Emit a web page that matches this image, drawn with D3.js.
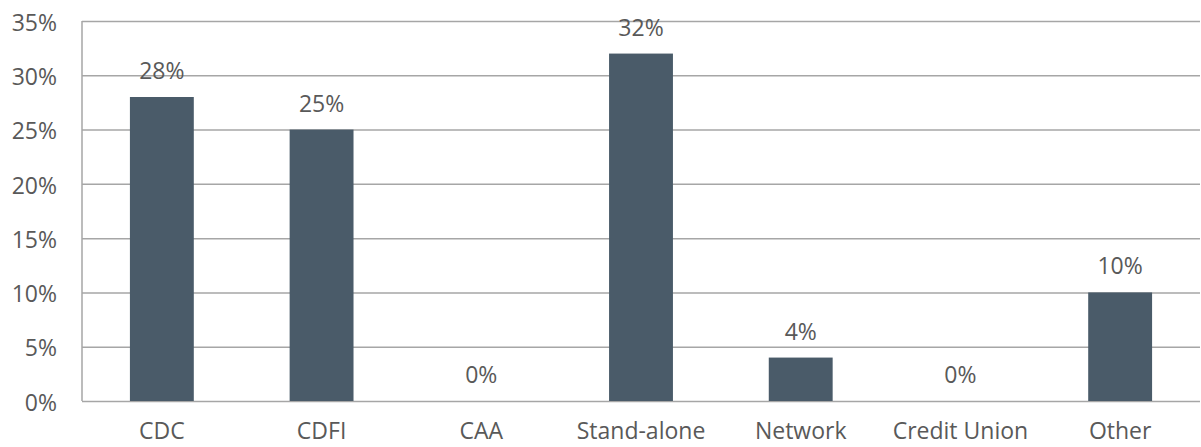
<!DOCTYPE html>
<html lang="en">
<head>
    <meta charset="UTF-8">
    <title>Organization Type Bar Chart</title>
    <script src="https://d3js.org/d3.v7.min.js"></script>
    <style>
        body { margin: 0; background: #fff; }
        .grid line { stroke: #a6a6a6; stroke-width: 1.5; }
        .grid path { stroke-width: 0; }
        .axis text { fill: #595959; font-size: 23px; font-family: "Open Sans", sans-serif; }
        .axis path, .axis line { stroke: none; }
        .bar { fill: #4a5b69; }
        .value-label { fill: #595959; font-size: 23px; font-family: "Open Sans", sans-serif; }
    </style>
</head>
<body>
    <div id="chart"></div>

    <script>
        // Data
        const categories = ["CDC", "CDFI", "CAA", "Stand-alone", "Network", "Credit Union", "Other"];
        const values = [28, 25, 0, 32, 4, 0, 10];
        const yTicks = [0, 5, 10, 15, 20, 25, 30, 35];

        const totalWidth = 1201, totalHeight = 447;
        const margin = {top: 21, right: 1, bottom: 46, left: 82};
        const width = totalWidth - margin.left - margin.right;
        const height = totalHeight - margin.top - margin.bottom;

        const svg = d3.select("#chart")
            .append("svg")
            .attr("width", totalWidth)
            .attr("height", totalHeight)
            .append("g")
            .attr("transform", `translate(${margin.left},${margin.top})`);

        const x = d3.scaleBand()
            .domain(categories)
            .range([0, width])
            .paddingInner(0.6)
            .paddingOuter(0.3);

        const y = d3.scaleLinear()
            .domain([0, 35])
            .range([height, 0]);

        // horizontal gridlines
        svg.append("g")
            .attr("class", "grid")
            .call(d3.axisLeft(y).tickValues(yTicks).tickSize(-width).tickFormat(""));

        // left axis line
        svg.append("line")
            .attr("x1", 0).attr("x2", 0)
            .attr("y1", y(35)).attr("y2", y(0))
            .attr("stroke", "#a6a6a6")
            .attr("stroke-width", 1.5);

        // y axis labels
        svg.append("g")
            .attr("class", "axis")
            .call(d3.axisLeft(y).tickValues(yTicks).tickSize(0).tickPadding(25).tickFormat(d => d + "%"))
            .selectAll("text")
            .attr("dy", "0.4em");

        // x axis labels
        svg.append("g")
            .attr("class", "axis")
            .attr("transform", `translate(0,${height})`)
            .call(d3.axisBottom(x).tickSize(0).tickPadding(22));

        const data = categories.map((c, i) => ({cat: c, val: values[i]}));

        svg.selectAll(".bar")
            .data(data)
            .enter()
            .append("rect")
            .attr("class", "bar")
            .attr("x", d => x(d.cat))
            .attr("width", x.bandwidth())
            .attr("y", d => y(d.val))
            .attr("height", d => height - y(d.val));

        svg.selectAll(".value-label")
            .data(data)
            .enter()
            .append("text")
            .attr("class", "value-label")
            .attr("x", d => x(d.cat) + x.bandwidth() / 2)
            .attr("y", d => y(d.val) - 18)
            .attr("text-anchor", "middle")
            .text(d => d.val + "%");
    </script>
</body>
</html>
